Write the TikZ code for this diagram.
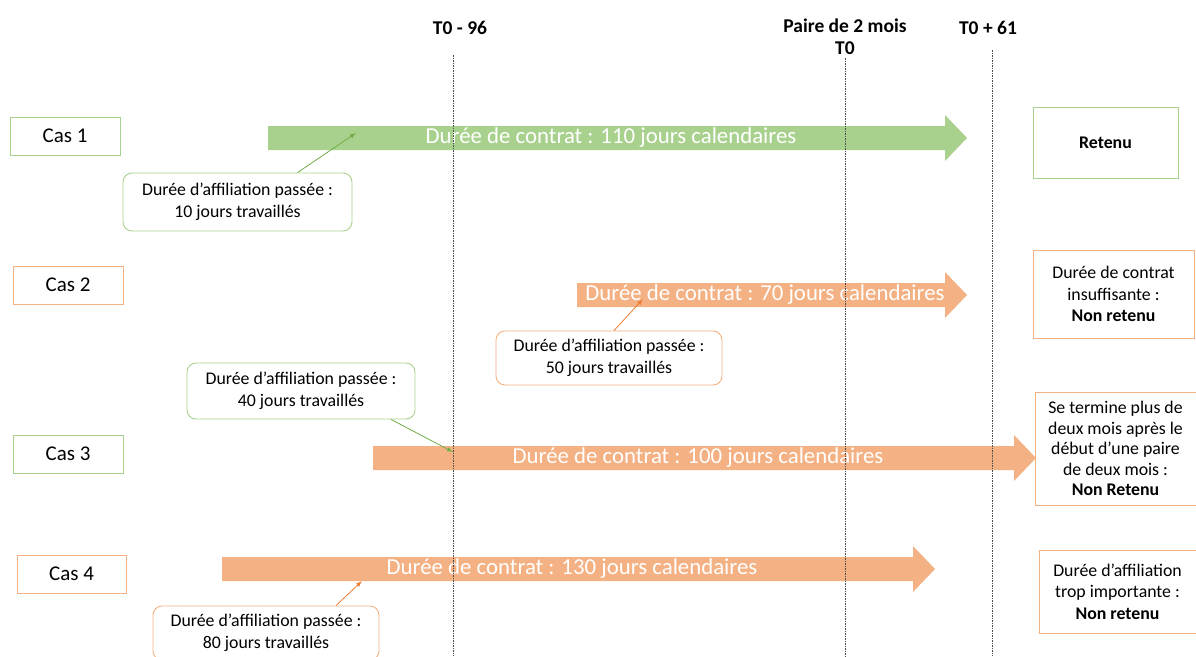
\documentclass[tikz,border=0pt]{standalone}
\usepackage{fontspec}
\setmainfont{Carlito}
\usetikzlibrary{arrows.meta,calc}
\definecolor{grn}{HTML}{A9D18E}
\definecolor{grnd}{HTML}{70AD47}
\definecolor{org}{HTML}{F4B183}
\definecolor{orgd}{HTML}{ED7D31}
\newcommand\fatarrow[5]{% x0, tip x, y center, colour, text
  \fill[#4] (#1,#3-12) -- (#2-22,#3-12) -- (#2-22,#3-23) -- (#2,#3) -- (#2-22,#3+23) -- (#2-22,#3+12) -- (#1,#3+12) -- cycle;
}
\begin{document}
\begin{tikzpicture}[x=1pt,y=-1pt,
  caslabel/.style={draw, line width=1pt, minimum width=110pt, minimum height=38pt, inner sep=0pt, font=\fontsize{21}{24}\selectfont},
  callout/.style={draw, rounded corners=9pt, line width=0.9pt, minimum width=228pt, minimum height=56pt, inner sep=0pt, align=center, font=\fontsize{17.8}{22}\selectfont},
  result/.style={draw, line width=1pt, inner sep=0pt, align=center, font=\fontsize{17.8}{21.5}\selectfont},
  header/.style={inner sep=0pt, font=\bfseries\fontsize{19.5}{22}\selectfont},
  arrowtxt/.style={inner sep=0pt, text=white, font=\fontsize{22.8}{24}\selectfont},
  timeline/.style={black!70, dash pattern=on 1.5pt off 1pt, line width=0.6pt},
  link/.style={-{Latex[length=6pt,width=4.5pt]}, line width=0.8pt}]
\useasboundingbox (0,0) rectangle (1196,656);

% fat arrows
\fatarrow{268}{967}{138}{grn}{}
\fatarrow{577}{967}{295}{org}{}
\fatarrow{373}{1036}{458}{org}{}
\fatarrow{222}{935}{569}{org}{}
\node[arrowtxt] (t1) at (611,138) {Durée de contrat : 110 jours calendaires};
\node[arrowtxt] (t2) at (765,295) {Durée de contrat : 70 jours calendaires};
\node[arrowtxt] (t3) at (698,458) {Durée de contrat : 100 jours calendaires};
\node[arrowtxt] (t4) at (572,569) {Durée de contrat : 130 jours calendaires};

% headers
\node[header] (h1) at (460,28) {T0 - 96};
\node[header] (h2) at (845,26) {Paire de 2 mois};
\node[header] (h2b) at (845,48) {T0};
\node[header] (h3) at (988,28) {T0 + 61};

% timelines
\coordinate (l1t) at (453,55);  \coordinate (l1b) at (453,656);
\coordinate (l2t) at (845,58);  \coordinate (l2b) at (845,656);
\coordinate (l3t) at (992,50);  \coordinate (l3b) at (992,656);
\draw[timeline] (l1t) -- (l1b);
\draw[timeline] (l2t) -- (l2b);
\draw[timeline] (l3t) -- (l3b);

% case labels
\node[caslabel, draw=grn] (cas1) at (65,136) {Cas 1};
\node[caslabel, draw=org] (cas2) at (68,285) {Cas 2};
\node[caslabel, draw=grn] (cas3) at (68,454) {Cas 3};
\node[caslabel, draw=org, minimum width=109pt] (cas4) at (71.5,574) {Cas 4};

% results
\node[result, draw=grn, minimum width=145pt, minimum height=71pt] (r1) at (1105.5,142.5) {\textbf{Retenu}};
\node[result, draw=org, minimum width=161pt, minimum height=88pt] (r2) at (1113.5,294) {Durée de contrat\\insuffisante :\\\textbf{Non retenu}};
\node[result, draw=org, minimum width=161pt, minimum height=113pt, font=\fontsize{17.8}{20.5}\selectfont] (r3) at (1115.5,448.5) {Se termine plus de\\deux mois après le\\début d’une paire\\de deux mois :\\\textbf{Non Retenu}};
\node[result, draw=org, minimum width=157pt, minimum height=83pt] (r4) at (1117.5,591.5) {Durée d’affiliation\\trop importante :\\\textbf{Non retenu}};

% callouts
\node[callout, draw=grn, minimum width=229pt, minimum height=58pt] (c1) at (237.5,202) {Durée d’affiliation passée :\\10 jours travaillés};
\node[callout, draw=org, minimum width=226pt, minimum height=54pt] (c2) at (609,358) {Durée d’affiliation passée :\\50 jours travaillés};
\node[callout, draw=grn] (c3) at (301,391) {Durée d’affiliation passée :\\40 jours travaillés};
\node[callout, draw=org, minimum width=226pt, minimum height=54pt] (c4) at (266,633) {Durée d’affiliation passée :\\80 jours travaillés};

% connectors
\coordinate (a1) at (356,133);
\coordinate (a2) at (643,299);
\coordinate (a3) at (453,452);
\coordinate (a4) at (362,581);
\draw[link, grnd] ($(c1.north)+(60,0)$) -- (a1);
\draw[link, orgd] ($(c2.north)+(5,0)$) -- (a2);
\draw[link, grnd] ($(c3.south)+(90,0)$) -- (a3);
\draw[link, orgd] ($(c4.north)+(70,0)$) -- (a4);
\end{tikzpicture}
\end{document}
